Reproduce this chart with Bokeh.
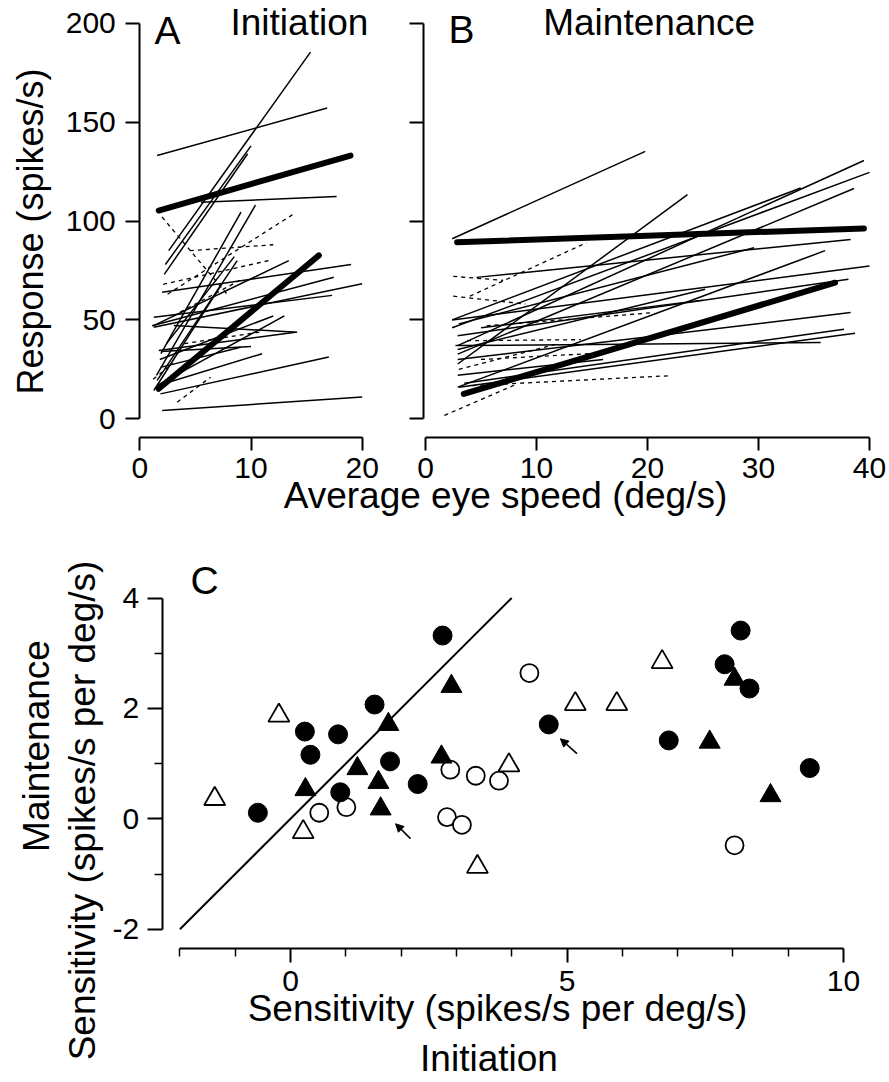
import math
from bokeh.plotting import figure
from bokeh.models import (Range1d, LinearAxis, FixedTicker, Label, Arrow,
                          NormalHead, ColumnDataSource)
from bokeh.embed import file_html
from bokeh.resources import INLINE

FONT = "Liberation Sans"

# ---------------- DATA ----------------
# Panel A (Initiation): regression lines, (speed0, resp0, speed1, resp1)
a_solid = [
    (1.56, 133.1, 16.85, 157.1), (2.6, 85.0, 15.35, 185.4), (2.3, 78.0, 10.0, 138.0),
    (2.2, 73.0, 9.7, 134.0), (5.5, 109.5, 17.7, 112.4), (1.9, 33.0, 9.1, 104.5),
    (1.5, 22.0, 10.4, 108.0), (1.2, 47.0, 13.4, 80.0), (2.0, 64.0, 19.0, 78.0),
    (1.26, 46.3, 20.0, 68.3), (1.11, 47.0, 17.45, 71.6), (1.26, 51.4, 17.3, 62.4),
    (1.71, 34.5, 14.0, 43.8), (3.06, 47.2, 14.15, 43.8), (1.86, 12.6, 17.0, 31.2),
    (2.01, 4.2, 20.0, 11.0), (1.71, 17.0, 11.0, 32.9), (1.86, 26.0, 9.06, 36.2),
    (1.56, 19.4, 8.76, 80.0), (1.26, 14.3, 7.4, 68.3), (1.6, 17.0, 13.0, 52.0),
    (2.4, 38.0, 8.5, 82.0), (1.9, 34.0, 10.0, 36.5), (1.8, 30.0, 12.0, 52.0),
]
a_dashed = [
    (2.0, 102.0, 8.0, 62.0), (2.5, 63.0, 13.85, 103.6), (4.5, 85.0, 12.0, 88.0),
    (2.1, 68.0, 11.6, 80.0), (3.36, 8.4, 6.36, 21.0), (1.2, 20.0, 3.0, 28.0),
    (4.0, 38.0, 11.0, 44.0), (3.0, 52.0, 9.0, 70.0),
]
a_thick = [(1.7, 105.3, 18.95, 133.1), (1.7, 15.2, 16.1, 82.6)]

# Panel B (Maintenance)
b_solid = [
    (2.4, 91.0, 19.8, 135.2), (2.4, 50.0, 33.8, 116.7), (2.4, 46.0, 40.0, 124.6),
    (2.9, 37.0, 39.5, 130.6), (2.9, 32.7, 38.6, 116.4), (2.9, 27.7, 23.6, 113.3),
    (2.9, 16.0, 36.0, 85.0), (4.6, 71.5, 38.3, 90.7), (2.4, 50.0, 40.0, 77.2),
    (2.9, 42.0, 38.1, 70.5), (2.9, 35.0, 25.2, 65.5), (2.9, 30.0, 38.3, 53.7),
    (3.5, 18.0, 37.7, 45.3), (3.0, 16.0, 38.7, 43.3), (2.7, 37.0, 35.6, 38.6),
    (3.0, 48.0, 29.6, 86.5), (2.9, 22.0, 16.0, 30.0), (5.0, 46.0, 25.0, 60.0),
]
b_dashed = [
    (1.7, 1.7, 8.0, 17.0), (4.2, 16.8, 22.1, 21.8), (3.75, 39.5, 14.0, 40.0),
    (5.5, 47.0, 20.6, 53.7), (4.0, 62.0, 14.5, 89.0), (2.5, 72.0, 7.0, 70.0),
    (2.5, 62.0, 9.0, 58.0), (5.0, 30.0, 15.0, 33.0), (3.0, 25.0, 12.0, 38.0),
]
b_thick = [(2.85, 89.3, 39.5, 96.2), (3.45, 12.6, 36.9, 68.8)]

# Panel C: sensitivity, initiation (x) vs maintenance (y)
fc_x = [-0.59, 0.26, 0.36, 0.86, 0.90, 1.52, 1.80, 2.30, 2.75, 4.67, 6.84, 7.85, 8.14, 8.30, 9.39]
fc_y = [0.11, 1.58, 1.16, 1.53, 0.48, 2.07, 1.04, 0.63, 3.32, 1.71, 1.42, 2.80, 3.41, 2.36, 0.92]
ft_x = [0.27, 1.21, 1.59, 1.77, 1.63, 2.91, 2.73, 7.58, 8.03, 8.68]
ft_y = [0.53, 0.91, 0.66, 1.71, 0.18, 2.40, 1.12, 1.39, 2.53, 0.42]
oc_x = [0.52, 1.01, 2.89, 3.35, 2.83, 3.10, 3.77, 4.32, 8.03]
oc_y = [0.11, 0.21, 0.89, 0.78, 0.03, -0.11, 0.69, 2.64, -0.48]
ot_x = [-1.37, -0.21, 0.23, 3.38, 3.95, 5.15, 5.90, 6.72]
ot_y = [0.36, 1.87, -0.24, -0.87, 0.97, 2.08, 2.08, 2.84]
diag_x = [-2, 4]
diag_y = [-2, 4]
arrow_x0 = [2.17, 5.18]
arrow_y0 = [-0.36, 1.18]
arrow_x1 = [1.90, 4.88]
arrow_y1 = [-0.09, 1.45]

# ticks
ab_yticks = [0, 50, 100, 150, 200]
a_xticks = [0, 10, 20]
b_xticks = [0, 10, 20, 30, 40]
c_xticks = [0, 5, 10]
c_xminor = [-2, -1, 1, 2, 3, 4, 6, 7, 8, 9]
c_yticks = [-2, 0, 2, 4]
c_yminor = [-1, 1, 3]
c_ytick_labels = {-2: "-2", 0: "0", 2: "2", 4: "4"}

# ---------------- LAYOUT (page pixels) ----------------
W, H = 889, 1082
A_X0, A_SX = 139.3, 11.12
AB_Y0, AB_SY = 418.3, 1.978
B_X0, B_SX = 425.0, 11.1
C_X0, C_SX = 290.0, 55.3
C_Y0, C_SY = 818.3, 55.2
TXT_SHIFT = 13.0   # baseline correction for labels (px)


def xr(x0, s):
    return Range1d(-x0 / s, (W - x0) / s)


def yr(y0, s):
    return Range1d(-(H - y0) / s, y0 / s)


p = figure(width=W, height=H, x_range=xr(A_X0, A_SX), y_range=yr(AB_Y0, AB_SY),
           output_backend="svg", toolbar_location=None,
           x_axis_location=None, y_axis_location=None, min_border=0,
           outline_line_color=None)
p.title.visible = False
p.grid.visible = False
p.extra_x_ranges = {"b": xr(B_X0, B_SX), "c": xr(C_X0, C_SX)}
p.extra_y_ranges = {"c": yr(C_Y0, C_SY)}


def px_x(px, x0, s):
    return (px - x0) / s


def px_y(py, y0, s):
    return (y0 - py) / s


def add_axis(side, ticks, minor, bounds, loc, xn="default", yn="default",
             labels=True, standoff=9, major_out=14, minor_out=8, overrides=None):
    ax = LinearAxis(ticker=FixedTicker(ticks=ticks, minor_ticks=minor),
                    bounds=bounds, fixed_location=loc,
                    x_range_name=xn, y_range_name=yn,
                    axis_line_width=2, axis_line_color="black",
                    major_tick_line_width=2, major_tick_out=major_out, major_tick_in=0,
                    minor_tick_line_width=1.5, minor_tick_out=minor_out, minor_tick_in=0,
                    major_label_text_font=FONT, major_label_text_font_size="30px",
                    major_label_text_color="black", major_label_standoff=standoff)
    if not labels:
        ax.major_label_overrides = {t: "" for t in ticks}
    elif overrides:
        ax.major_label_overrides = overrides
    p.add_layout(ax, side)


ab_xaxis_loc = px_y(437.0, AB_Y0, AB_SY)
add_axis("left", ab_yticks, [], (0, 200), 0.0, standoff=10)
add_axis("below", a_xticks, [], (0, 20), ab_xaxis_loc, major_out=13, standoff=7)
add_axis("left", ab_yticks, [], (0, 200), px_x(423.3, B_X0, B_SX), xn="b", labels=False)
add_axis("below", b_xticks, [], (0, 40), ab_xaxis_loc, xn="b", major_out=13, standoff=7)
add_axis("left", c_yticks, c_yminor, (-2, 4), px_x(161.7, C_X0, C_SX), xn="c", yn="c",
         standoff=8, major_out=15, minor_out=8, overrides=c_ytick_labels)
add_axis("below", c_xticks, c_xminor, (-2, 10), px_y(947.7, C_Y0, C_SY), xn="c", yn="c",
         standoff=9, major_out=14, minor_out=8)


def seg_src(rows):
    return ColumnDataSource(dict(x0=[r[0] for r in rows], y0=[r[1] for r in rows],
                                 x1=[r[2] for r in rows], y1=[r[3] for r in rows]))


for rows, xn in ((a_solid, "default"), (b_solid, "b")):
    p.segment("x0", "y0", "x1", "y1", source=seg_src(rows), line_color="black",
              line_width=1.5, x_range_name=xn)
for rows, xn in ((a_dashed, "default"), (b_dashed, "b")):
    p.segment("x0", "y0", "x1", "y1", source=seg_src(rows), line_color="black",
              line_width=1.3, line_dash="4 4", x_range_name=xn)
for rows, xn in ((a_thick, "default"), (b_thick, "b")):
    p.segment("x0", "y0", "x1", "y1", source=seg_src(rows), line_color="black",
              line_width=6, line_cap="round", x_range_name=xn)

# Panel C
p.line(diag_x, diag_y, line_color="black", line_width=2, x_range_name="c", y_range_name="c")
p.scatter(oc_x, oc_y, marker="circle", size=18, fill_color="white", line_color="black",
          line_width=1.8, x_range_name="c", y_range_name="c")
p.scatter(ot_x, ot_y, marker="triangle", size=21, fill_color="white", line_color="black",
          line_width=1.8, x_range_name="c", y_range_name="c")
p.scatter(fc_x, fc_y, marker="circle", size=19, fill_color="black", line_color="black",
          x_range_name="c", y_range_name="c")
p.scatter(ft_x, ft_y, marker="triangle", size=21, fill_color="black", line_color="black",
          x_range_name="c", y_range_name="c")
for i in range(len(arrow_x0)):
    p.add_layout(Arrow(x_start=arrow_x0[i], y_start=arrow_y0[i], x_end=arrow_x1[i], y_end=arrow_y1[i],
                       line_width=1.6, line_color="black",
                       end=NormalHead(size=8, fill_color="black", line_color="black"),
                       x_range_name="c", y_range_name="c"))


def label(text, px, py, xn, yn, size, align="left", angle=0.0):
    # (px, py): page position of the text's baseline anchor
    if angle:
        px -= TXT_SHIFT
    else:
        py -= TXT_SHIFT
    if xn == "default":
        x = px_x(px, A_X0, A_SX)
    elif xn == "b":
        x = px_x(px, B_X0, B_SX)
    else:
        x = px_x(px, C_X0, C_SX)
    y = px_y(py, C_Y0, C_SY) if yn == "c" else px_y(py, AB_Y0, AB_SY)
    p.add_layout(Label(x=x, y=y, text=text, x_range_name=xn, y_range_name=yn,
                       text_font=FONT, text_font_size=size, text_color="black",
                       text_align=align, text_baseline="alphabetic", angle=angle))


label("A", 154, 43, "default", "default", "39px")
label("Initiation", 230, 35, "default", "default", "37px")
label("B", 448, 42, "b", "default", "39px")
label("Maintenance", 542.7, 35, "b", "default", "37px")
label("Response (spikes/s)", 43, 231, "default", "default", "36px", align="center",
      angle=math.pi / 2)
label("Average eye speed (deg/s)", 505, 508, "c", "c", "37px", align="center")
label("C", 190, 593, "c", "c", "39px")
label("Maintenance", 49, 745.5, "c", "c", "37px", align="center", angle=math.pi / 2)
label("Sensitivity (spikes/s per deg/s)", 95, 810, "c", "c", "37px", align="center",
      angle=math.pi / 2)
label("Sensitivity (spikes/s per deg/s)", 497, 1021, "c", "c", "37px", align="center")
label("Initiation", 488.5, 1071, "c", "c", "37px", align="center")

open("out.html", "w").write(file_html(p, INLINE))
